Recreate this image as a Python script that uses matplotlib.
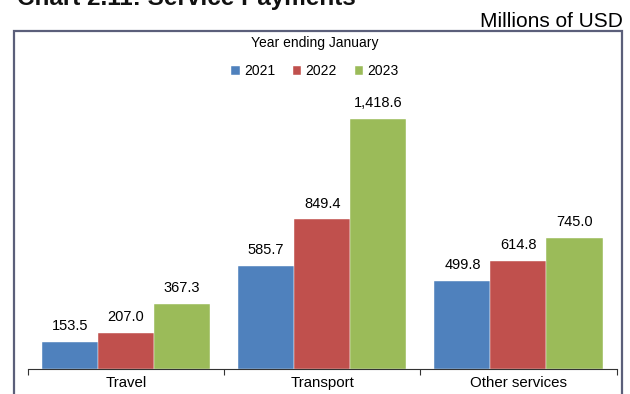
import numpy as np
import matplotlib.pyplot as plt
from matplotlib.patches import Rectangle

plt.rcParams["font.family"] = ["Liberation Sans", "DejaVu Sans"]

categories = ["Travel", "Transport", "Other services"]
years = ["2021", "2022", "2023"]
payments = {
    "2021": [153.5, 585.7, 499.8],
    "2022": [207.0, 849.4, 614.8],
    "2023": [367.3, 1418.6, 745.0],
}
colors = ["#4F81BD", "#C0504D", "#9BBB59"]

fig = plt.figure(figsize=(6.3, 3.94), dpi=100)
ax = fig.add_axes([0.0444, 0.0635, 0.9342, 0.7155])

# outer chart frame (runs off the bottom of the page)
fig.patches.append(Rectangle((14 / 630, -0.1), 608 / 630, 1.1 - 31 / 394,
                             transform=fig.transFigure, fill=False,
                             edgecolor="#5B5F7A", linewidth=1.6))

x = np.arange(len(categories))
width = 0.2857

for i, (yr, c) in enumerate(zip(years, colors)):
    vals = payments[yr]
    bars = ax.bar(x + (i - 1) * width, vals, width, color=c, label=yr,
                  edgecolor="white", linewidth=0.3)
    for b, v in zip(bars, vals):
        ax.text(b.get_x() + b.get_width() / 2, v + 50, f"{v:,.1f}",
                ha="center", va="bottom", fontsize=10.5)

ax.set_xlim(-0.5, 2.5)
ax.set_ylim(0, 1600)
ax.set_yticks([])
for s in ["top", "right", "left"]:
    ax.spines[s].set_visible(False)
ax.spines["bottom"].set_color("#333333")

ax.set_xticks([-0.5, 0.5, 1.5, 2.5], minor=False)
ax.set_xticklabels([])
ax.tick_params(axis="x", which="major", length=4, color="#333333")
ax.set_xticks(x, minor=True)
ax.set_xticklabels(categories, minor=True, fontsize=10.8)
ax.tick_params(axis="x", which="minor", length=0, pad=5)

leg = fig.legend(loc="center", bbox_to_anchor=(0.5, 0.855), ncol=3,
                 frameon=False, fontsize=10, handlelength=0.6,
                 handleheight=0.6, handletextpad=0.3, columnspacing=1.3,
                 title="Year ending January", title_fontsize=10)
leg._legend_box.sep = 10

fig.text(0.027, 0.987, "Chart 2.11: Service Payments", fontsize=17.5,
         fontweight="bold", ha="left", va="baseline", color="#111111")
fig.text(0.988, 0.945, "Millions of USD", fontsize=15, ha="right",
         va="center")

fig.savefig("out.png", dpi=100)
